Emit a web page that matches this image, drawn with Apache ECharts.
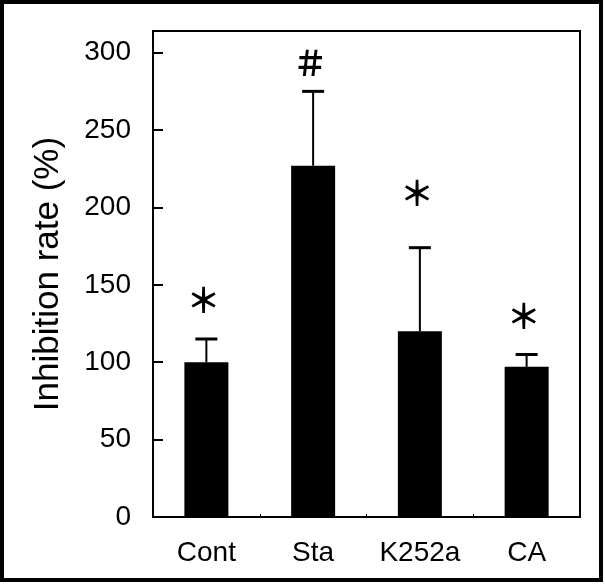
<!DOCTYPE html>
<html><head><meta charset="utf-8">
<script src="https://cdn.jsdelivr.net/npm/echarts@6/dist/echarts.min.js"></script>
<style>html,body{margin:0;padding:0;background:#fff}#c{width:605px;height:588px}</style>
</head><body><div id="c"></div>
<script>
const categories = ['Cont', 'Sta', 'K252a', 'CA'];
const means = [100, 227, 120, 97];
const errors = [15, 48, 54, 8];
const marks = ['＊', '＃', '＊', '＊'];
const markLevels = [140, 293, 209, 130];
const yTicks = [0, 50, 100, 150, 200, 250, 300];
const yTitle = 'Inhibition rate (%)';

const chart = echarts.init(document.getElementById('c'), null, {renderer: 'canvas'});
const fontFam = '"Liberation Sans", Arial, Helvetica, sans-serif';
chart.setOption({
  animation: false,
  backgroundColor: '#fff',
  grid: {left: 153, right: 25, top: 31, bottom: 71, show: true, borderColor: '#000', borderWidth: 2, backgroundColor: 'transparent'},
  xAxis: {
    type: 'category', data: categories,
    axisLine: {lineStyle: {color: '#000', width: 2}},
    axisTick: {show: true, inside: true, length: 3, lineStyle: {color: '#000', width: 1}},
    axisLabel: {color: '#000', fontSize: 28, fontFamily: fontFam, margin: 22}
  },
  yAxis: {
    type: 'value', min: 0, max: 314,
    name: yTitle, nameLocation: 'middle', nameRotate: 90, nameGap: 87,
    nameTextStyle: {color: '#000', fontSize: 35, fontFamily: fontFam},
    splitLine: {show: false},
    axisLine: {show: true, lineStyle: {color: '#000', width: 2}},
    axisTick: {show: true, inside: true, length: 10, customValues: yTicks, lineStyle: {color: '#000', width: 2}},
    axisLabel: {color: '#000', fontSize: 28, fontFamily: fontFam, margin: 22, customValues: yTicks}
  },
  graphic: [{type: 'rect', shape: {x: 2, y: 2, width: 599, height: 578}, style: {fill: 'none', stroke: '#000', lineWidth: 4}, z: 100}],
  series: [
    {type: 'bar', data: means, barWidth: 44, itemStyle: {color: '#000'}},
    {
      type: 'custom',
      data: categories.map((c, i) => [i, means[i], means[i] + errors[i], markLevels[i]]),
      renderItem: function (params, api) {
        const i = api.value(0);
        const top = api.coord([i, api.value(2)]);
        const base = api.coord([i, api.value(1)]);
        const m = api.coord([i, api.value(3)]);
        const hw = 11;
        return {type: 'group', children: [
          {type: 'line', shape: {x1: top[0], y1: base[1], x2: top[0], y2: top[1]}, style: {stroke: '#000', lineWidth: 2}},
          {type: 'line', shape: {x1: top[0] - hw, y1: top[1], x2: top[0] + hw, y2: top[1]}, style: {stroke: '#000', lineWidth: 3}},
          {type: 'text', x: m[0] - 3, y: m[1], style: {text: marks[params.dataIndex], font: 'bold 34px "Noto Sans CJK JP"', textAlign: 'center', textVerticalAlign: 'middle', fill: '#000'}}
        ]};
      },
      z: 5
    }
  ]
});
</script></body></html>
